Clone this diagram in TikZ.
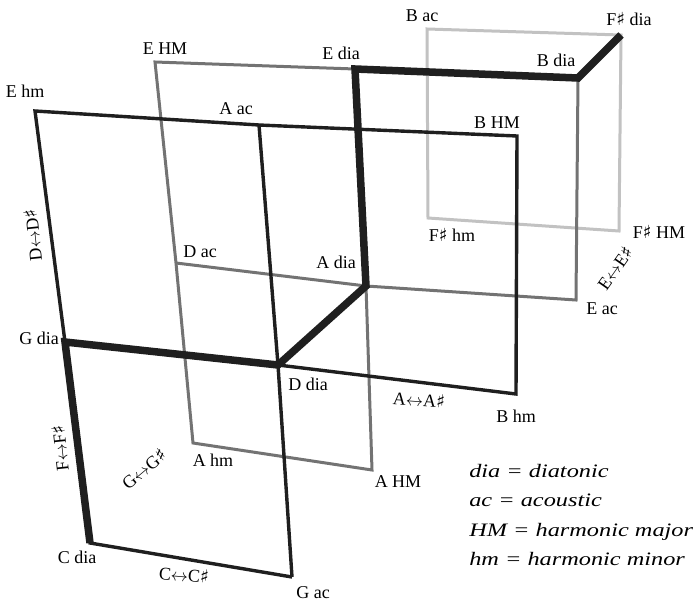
\documentclass[tikz,border=0pt]{standalone}
\usepackage{fontspec}
\setmainfont{Liberation Serif}
\newfontfamily\symfam{DejaVu Sans}
\newcommand{\shp}{{\symfam ♯}}
\usetikzlibrary{positioning}

\begin{document}
\begin{tikzpicture}[x=1pt,y=-1pt,
  frontline/.style={line width=3.4pt, black!88},
  midline/.style={line width=3pt, black!55},
  paleline/.style={line width=3pt, black!24},
  diapath/.style={line width=7.5pt, black!88},
  lbl/.style={font=\fontsize{18}{20}\selectfont, inner sep=0pt},
  keytext/.style={font=\fontsize{19}{22}\selectfont\itshape, inner sep=0pt, anchor=base west, xscale=1.28}]
  \useasboundingbox (0,0) rectangle (699,602);
  % corners of the three frames
  \coordinate (Ehm) at (35,111);   \coordinate (Aac) at (259,125);  \coordinate (BHM) at (517,136);
  \coordinate (Gdia) at (65,342);  \coordinate (Ddia) at (278,365); \coordinate (Bhm) at (516,394);
  \coordinate (Cdia) at (90,543);  \coordinate (Gac) at (292,577);
  \coordinate (EHM) at (155,62);   \coordinate (Edia) at (355,69);  \coordinate (Bdia) at (578,78);
  \coordinate (Dac) at (176,263);  \coordinate (Adia) at (366,286); \coordinate (Eac) at (576,300);
  \coordinate (Ahm) at (193,443);  \coordinate (AHM) at (372,470);
  \coordinate (Bac) at (427,29);   \coordinate (Fsdia) at (621,35);
  \coordinate (Fshm) at (428,218); \coordinate (FsHM) at (619,231);
  % back square
  \draw[paleline] (Bac) -- (Fsdia) -- (FsHM) -- (Fshm) -- cycle;
  % middle frame
  \draw[midline] (Edia) -- (EHM) -- (Dac) -- (Ahm) -- (AHM) -- (Adia);
  \draw[midline] (Dac) -- (Adia) -- (Eac) -- (Bdia);
  % front frame
  \draw[frontline] (Gac) -- (Cdia) -- (Gdia) -- (Ehm) -- (Aac) -- (BHM) -- (Bhm) -- (Ddia) -- (Gdia);
  \draw[frontline] (Aac) -- (Ddia) -- (Gac);
  % diatonic path
  \draw[diapath] (Cdia) -- (Gdia) -- (Ddia) -- (Adia) -- (Edia) -- (Bdia) -- (Fsdia);
  % labels
  \node[lbl] (lEhm) at (25,91) {E hm};
  \node[lbl] (lEHM) at (165,49) {E HM};
  \node[lbl] (lAac) at (236,109) {A ac};
  \node[lbl] (lEdia) at (341,53) {E dia};
  \node[lbl] (lBac) at (422,16) {B ac};
  \node[lbl] (lFsdia) at (629,19) {F\shp\ dia};
  \node[lbl] (lBdia) at (556,60) {B dia};
  \node[lbl] (lBHM) at (497,123) {B HM};
  \node[lbl] (lDac) at (200,252) {D ac};
  \node[lbl] (lAdia) at (336,262) {A dia};
  \node[lbl] (lGdia) at (39,338) {G dia};
  \node[lbl] (lDdia) at (308,384) {D dia};
  \node[lbl] (lFshm) at (452,235) {F\shp\ hm};
  \node[lbl] (lFsHM) at (659,232) {F\shp\ HM};
  \node[lbl] (lEac) at (602,309) {E ac};
  \node[lbl] (lBhm) at (516,416) {B hm};
  \node[lbl] (lAhm) at (213,460) {A hm};
  \node[lbl] (lAHM) at (398,482) {A HM};
  \node[lbl] (lCdia) at (77,557) {C dia};
  \node[lbl] (lGac) at (313,593) {G ac};
  % semitone moves
  \node[lbl, rotate=96] (mDD) at (33,235) {D$\leftrightarrow$D\shp};
  \node[lbl, rotate=96] (mFF) at (60,448) {F$\leftrightarrow$F\shp};
  \node[lbl, rotate=40] (mGG) at (144,469) {G$\leftrightarrow$G\shp};
  \node[lbl, rotate=-5] (mCC) at (184,575) {C$\leftrightarrow$C\shp};
  \node[lbl, rotate=-4] (mAA) at (419,400) {A$\leftrightarrow$A\shp};
  \node[lbl, rotate=55] (mEE) at (615,268) {E$\leftrightarrow$E\shp};
  % key
  \node[keytext] (kdia) at (469,477) {dia = diatonic};
  \node[keytext] (kac) at (469,506) {ac = acoustic};
  \node[keytext] (kHM) at (469,536) {HM = harmonic major};
  \node[keytext] (khm) at (469,565) {hm = harmonic minor};
\end{tikzpicture}
\end{document}
